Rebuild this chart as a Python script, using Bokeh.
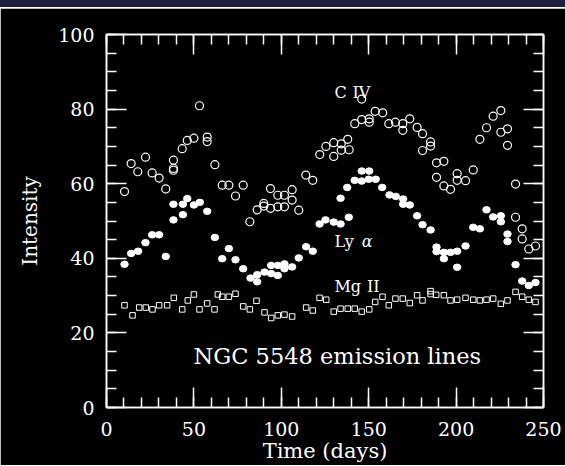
from bokeh.plotting import figure
from bokeh.models import Range1d, LinearAxis, SingleIntervalTicker, Label, Div
from bokeh.layouts import column
from bokeh.embed import file_html
from bokeh.resources import INLINE

# ---- data ----
civ_t = [10.3, 14.1, 17.9, 22.3, 26.1, 30.1, 33.9, 38.3, 38.3, 38.3, 43.3, 46.2, 50.0, 53.2,
         57.6, 57.6, 62.0, 66.2, 70.0, 73.8, 78.2, 82.0, 86.2, 90.0, 90.0, 93.8, 93.8, 98.0,
         98.0, 101.8, 101.8, 106.2, 106.2, 110.0, 114.0, 118.0, 122.0, 125.5, 130.0, 130.0,
         134.3, 134.3, 138.0, 138.8, 142.0, 146.0, 146.0, 150.3, 150.3, 153.7, 158.0, 161.5,
         165.3, 169.5, 169.5, 173.5, 177.7, 180.8, 180.8, 185.4, 185.4, 188.8, 193.0, 188.8,
         193.0, 196.8, 200.6, 200.6, 205.4, 209.8, 213.6, 217.4, 221.2, 225.6, 225.6, 229.4,
         229.4, 234.0, 234.0, 237.8, 237.8, 241.6, 245.4]
civ_v = [57.9, 65.4, 63.2, 67.1, 62.9, 61.5, 58.6, 66.3, 64.1, 63.6, 69.4, 71.6, 72.2, 80.9,
         72.5, 71.3, 65.1, 59.6, 59.6, 56.7, 59.6, 49.8, 53.0, 54.7, 54.0, 58.7, 53.4, 56.9,
         53.8, 56.9, 53.8, 58.4, 55.6, 52.9, 62.3, 60.9, 67.8, 70.0, 71.0, 67.3,
         70.7, 69.0, 71.9, 69.1, 76.1, 82.7, 77.2, 77.4, 76.5, 79.4, 79.0, 76.1,
         76.5, 76.1, 74.3, 77.4, 75.1, 73.4, 68.9, 71.2, 70.1, 65.6, 66.0, 61.7,
         59.4, 58.5, 62.7, 60.9, 60.8, 63.7, 71.9, 75.0, 78.1, 79.6, 73.8, 74.7,
         70.3, 59.9, 51.0, 47.9, 45.2, 42.5, 43.3]

lya_t = [10.3, 14.1, 18.1, 22.3, 26.1, 30.1, 33.9, 38.3, 38.3, 43.7, 43.7, 46.2, 50.0, 53.4,
         57.6, 62.0, 66.2, 70.0, 73.8, 78.2, 82.4, 86.2, 86.2, 90.4, 94.2, 94.2, 98.0, 98.0,
         101.8, 101.8, 106.2, 110.0, 114.2, 118.0, 121.9, 125.3, 130.0, 133.9, 138.6, 133.9,
         137.7, 142.0, 146.0, 150.0, 154.0, 146.0, 150.3, 157.7, 161.9, 165.5, 169.7, 169.7,
         173.5, 177.7, 180.8, 185.4, 188.8, 188.8, 193.0, 193.0, 196.8, 200.6, 205.4, 200.6,
         209.8, 213.6, 217.4, 221.2, 225.6, 225.6, 229.4, 229.4, 234.0, 237.8, 241.6, 245.4]
lya_v = [38.4, 41.3, 41.9, 44.2, 46.3, 46.3, 40.5, 50.3, 54.5, 51.7, 54.5, 56.0, 54.3, 55.0,
         52.6, 45.6, 39.9, 42.6, 39.6, 37.2, 34.7, 35.6, 33.7, 36.3, 35.9, 38.1, 35.4, 38.1,
         38.5, 37.2, 37.7, 40.1, 43.1, 41.9, 49.2, 50.3, 49.7, 49.2, 51.0, 56.1,
         59.0, 60.9, 60.7, 61.2, 61.2, 63.4, 63.4, 59.0, 57.0, 56.6, 55.9, 54.5,
         54.3, 51.4, 49.0, 47.6, 43.0, 41.8, 41.6, 39.9, 41.6, 41.9, 43.3, 37.6,
         48.3, 47.9, 53.0, 51.1, 51.4, 49.8, 46.5, 44.5, 38.3, 33.9, 32.7, 33.5]

mg_t = [10.3, 14.9, 18.7, 22.5, 26.3, 30.1, 34.7, 38.5, 43.3, 46.5, 50.0, 53.2, 57.6, 61.8,
        63.7, 66.2, 70.0, 73.8, 78.2, 82.0, 85.8, 90.4, 94.2, 98.0, 101.8, 106.2, 114.2, 118.0,
        121.9, 125.7, 130.0, 133.9, 138.0, 142.0, 146.0, 150.3, 153.7, 157.9, 161.5, 165.3,
        169.5, 173.5, 177.7, 180.8, 185.4, 185.4, 188.6, 193.0, 196.8, 200.6, 205.4, 209.8,
        213.6, 217.4, 221.2, 225.6, 229.4, 234.0, 237.8, 241.6, 245.4]
mg_v = [27.4, 24.7, 26.8, 26.8, 26.3, 27.4, 27.4, 29.4, 26.3, 28.7, 30.3, 26.3, 27.9, 26.3,
        30.3, 29.7, 29.7, 30.5, 27.1, 26.3, 28.6, 25.5, 24.0, 24.7, 24.9, 24.4, 26.8, 26.0,
        29.4, 28.9, 25.7, 26.5, 26.5, 26.5, 25.7, 26.3, 28.3, 29.7, 27.4, 29.2,
        29.2, 28.0, 30.1, 28.7, 31.2, 30.4, 30.2, 30.1, 28.7, 28.9, 29.4, 28.9,
        28.7, 28.9, 29.2, 27.8, 28.7, 31.0, 29.7, 28.9, 28.3]

x_tick_values = [0, 50, 100, 150, 200, 250]
y_tick_values = [0, 20, 40, 60, 80, 100]
x_ticks_interval = 50
y_ticks_interval = 20

FONT = "DejaVu Serif"
FG = "white"
W = 565

band = Div(text="", width=W, height=7, margin=0,
           styles={"background-color": "#1e1f3e", "overflow": "hidden"})
line = Div(text="", width=W, height=1, margin=0,
           styles={"background-color": "#ffffff", "overflow": "hidden"})

p = figure(width=W, height=457, output_backend="svg", toolbar_location=None,
           x_range=Range1d(0, 250), y_range=Range1d(0, 100),
           background_fill_color="black", border_fill_color="black",
           min_border_left=106, min_border_right=22, min_border_top=26, min_border_bottom=55)
p.outline_line_color = FG
p.outline_line_width = 1.5
p.grid.visible = False


def style_axis(ax, interval, minor, tick_values=None):
    ax.ticker = SingleIntervalTicker(interval=interval, num_minor_ticks=minor)
    ax.axis_line_color = FG
    ax.axis_line_width = 1.5
    ax.major_tick_line_color = FG
    ax.major_tick_line_width = 1.5
    ax.minor_tick_line_color = FG
    ax.minor_tick_line_width = 1.5
    ax.major_tick_in = 20
    ax.major_tick_out = 0
    ax.minor_tick_in = 10
    ax.minor_tick_out = 0
    ax.major_label_text_color = FG
    ax.major_label_text_font = FONT
    ax.axis_label_text_color = FG
    ax.axis_label_text_font = FONT
    ax.axis_label_text_font_style = "normal"
    ax.major_label_text_font_size = "19px"
    if tick_values is not None:
        # mirrored axis: ticks only, no labels
        ax.major_label_overrides = {v: "" for v in tick_values}
        ax.major_label_standoff = 0


style_axis(p.xaxis[0], x_ticks_interval, 5)
style_axis(p.yaxis[0], y_ticks_interval, 4)
p.xaxis[0].major_label_standoff = 14
p.yaxis[0].major_label_standoff = 12
p.xaxis[0].axis_label = "Time (days)"
p.xaxis[0].axis_label_text_font_size = "21px"
p.xaxis[0].axis_label_standoff = 0
p.yaxis[0].axis_label = "Intensity"
p.yaxis[0].axis_label_text_font_size = "20px"
p.yaxis[0].axis_label_standoff = 13

top = LinearAxis()
style_axis(top, x_ticks_interval, 5, x_tick_values)
p.add_layout(top, "above")
right = LinearAxis()
style_axis(right, y_ticks_interval, 4, y_tick_values)
p.add_layout(right, "right")

# series
p.scatter(civ_t, civ_v, marker="circle", size=8, fill_color=None, line_color=FG, line_width=1.2)
p.ellipse(lya_t, lya_v, width=7.5, height=6.5, width_units="screen", height_units="screen",
          fill_color=FG, line_color=FG)
p.scatter(mg_t, mg_v, marker="square", size=5.5, fill_color=None, line_color=FG, line_width=1)

# annotations (text, x, y, size, style)
annotations = [
    ("C", 130.4, 84.4, "16px", "normal"),
    ("IV", 140.7, 84.4, "16px", "normal"),
    ("Ly", 130.4, 44.4, "16px", "normal"),
    ("α", 146.0, 44.4, "16px", "italic"),
    ("Mg", 130.4, 32.4, "16px", "normal"),
    ("II", 149.0, 32.4, "16px", "normal"),
    ("NGC 5548 emission lines", 49.8, 13.9, "22.5px", "normal"),
]
for txt, x, y, fs, st in annotations:
    p.add_layout(Label(x=x, y=y, text=txt, text_color=FG, text_font=FONT,
                       text_font_size=fs, text_font_style=st, text_baseline="alphabetic"))

layout = column(band, line, p, spacing=0)
open("out.html", "w").write(file_html(layout, INLINE))
